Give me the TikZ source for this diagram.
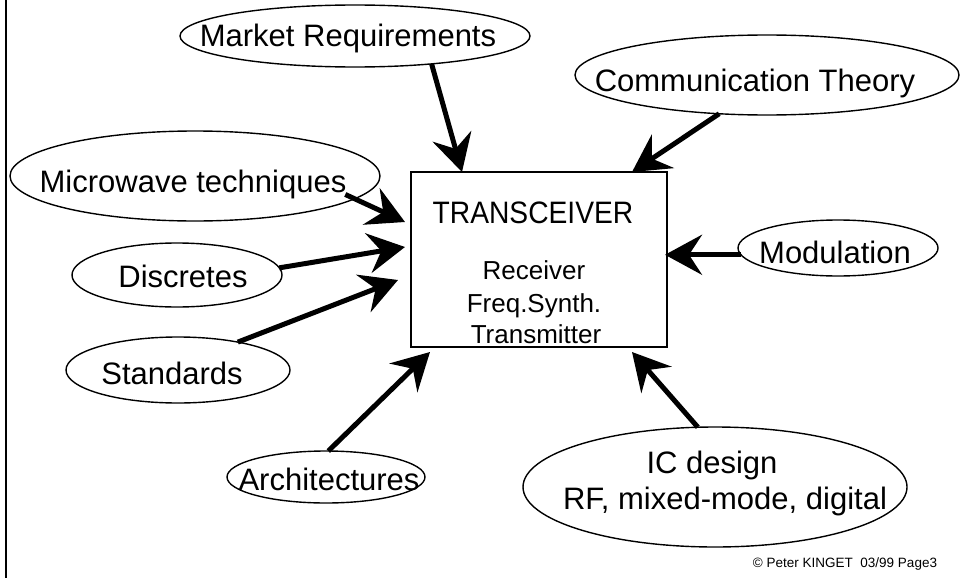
\documentclass[tikz,border=0pt]{standalone}
\usepackage{fontspec}
\setmainfont{Liberation Sans}
\usetikzlibrary{shapes.geometric,arrows.meta,calc}
\begin{document}
\begin{tikzpicture}[x=1pt,y=-1pt,
  oval/.style={draw, ellipse, line width=1.4pt, inner sep=0pt, outer sep=0pt},
  lbl/.style={anchor=base, inner sep=0pt, font=\fontsize{31}{36}\selectfont},
  smalllbl/.style={anchor=base, inner sep=0pt, font=\fontsize{26}{30}\selectfont},
  feed/.style={line width=5pt, -{Stealth[length=37pt,width=40pt,inset=13pt]}},
]
\useasboundingbox (0,0) rectangle (960,578);
\draw[line width=2pt] (6,0) -- (6,578);

% ellipses
\node[oval, minimum width=350pt, minimum height=62pt] (mr) at (355,36) {};
\node[oval, minimum width=384pt, minimum height=80pt] (ct) at (767,75) {};
\node[oval, minimum width=370pt, minimum height=90pt] (mw) at (195,176) {};
\node[oval, minimum width=210pt, minimum height=64pt] (ds) at (177,275) {};
\node[oval, minimum width=224pt, minimum height=66pt] (st) at (178,370) {};
\node[oval, minimum width=198pt, minimum height=52pt] (ar) at (326,477) {};
\node[oval, minimum width=200pt, minimum height=56pt] (md) at (838,248) {};
\node[oval, minimum width=384pt, minimum height=120pt] (ic) at (715,487) {};

% central box
\node[draw, line width=2pt, minimum width=256pt, minimum height=175pt, inner sep=0pt, outer sep=0pt] (box) at (539,259.5) {};

% texts
\node[lbl] (tmr) at (348,47) {Market Requirements};
\node[lbl] (tct) at (755,91) {Communication Theory};
\node[lbl] (tmw) at (193,192) {Microwave techniques};
\node[lbl] (tds) at (183,287) {Discretes};
\node[lbl] (tst) at (172,384) {Standards};
\node[lbl] (tar) at (329,490) {Architectures};
\node[lbl] (tmd) at (835,263) {Modulation};
\node[lbl] (tic1) at (712,473) {IC design};
\node[lbl] (tic2) at (725,509) {RF, mixed-mode, digital};
\node[anchor=base, inner sep=0pt, font=\fontsize{31}{36}\selectfont] (ttr) at (533,223) {\scalebox{0.91}[1]{TRANSCEIVER}};
\node[smalllbl] (trx) at (534,279) {Receiver};
\node[smalllbl] (tfs) at (534,312) {Freq.Synth.};
\node[smalllbl] (ttx) at (536,343) {Transmitter};
\node[anchor=base, inner sep=0pt, font=\fontsize{13.5}{16}\selectfont] (cp) at (845,567) {© Peter KINGET\ \ 03/99 Page3};

% arrows
\draw[feed] (mr.-20) -- ($(box.north west)+(51,0)$);
\draw[feed] (ct.-141) -- ($(box.north east)+(-35,0)$);
\draw[feed] ($(mw.center)!0.91!(mw.-7)$) -- ($(box.north west)+(-6,50)$);
\draw[feed] (ds.4) -- ($(box.north west)+(-6,75)$);
\draw[feed] (st.25) -- ($(box.north west)+(-13,108)$);
\draw[feed] (ar.85) -- ($(box.south west)+(19,5)$);
\draw[feed] (ic.106) -- ($(box.south east)+(-35,5)$);
\draw[feed] (md.184) -- ($(md.184 -| box.east)+(-2,0)$);
\end{tikzpicture}
\end{document}
